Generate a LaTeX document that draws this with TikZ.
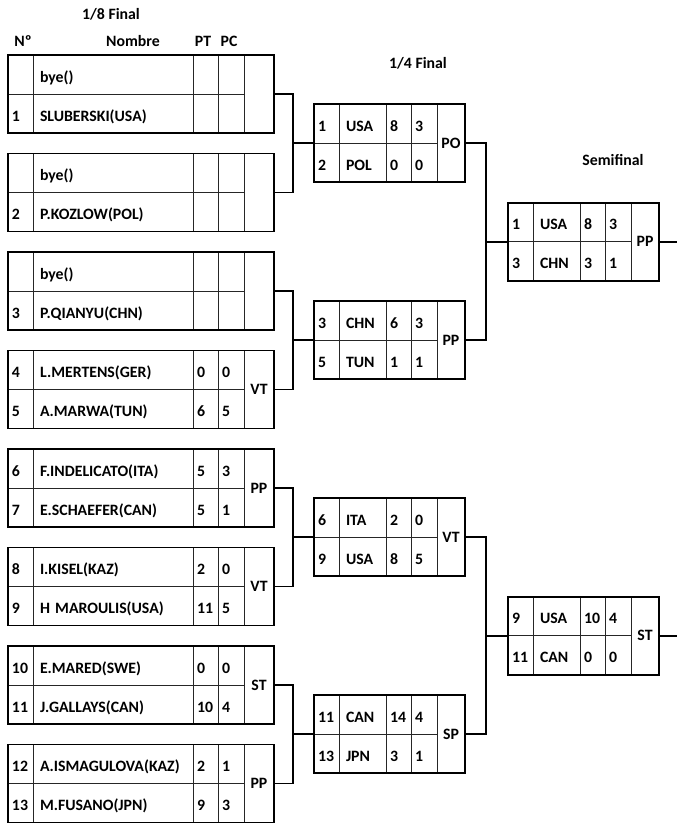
\documentclass[tikz,border=0pt]{standalone}
\usepackage{fontspec}
\setmainfont{Carlito}
\usetikzlibrary{positioning}

% una fila de un partido: id, punto izq., ancho texto nombre, nº, nombre, PT, PC
\newcommand{\fila}[7]{%
  \node[celda=17pt] (#1-n) at #2 {#4};
  \node[nombre=#3, right=0pt of #1-n] (#1-nom) {#5};
  \node[celda=17pt, right=0pt of #1-nom] (#1-pt) {#6};
  \node[celda=18pt, right=0pt of #1-pt] (#1-pc) {#7};
}
% casilla de resultado y marco del partido
\newcommand{\cierre}[3]{%
  \node[resultado, minimum width=#2] (#1) at (#1a-pc.north east) {#3};
  \draw[borde] (#1a-n.north west) rectangle (#1.south east);
}

\tikzset{
  celda/.style={draw=black!85, line width=0.8pt, text width=#1, align=left,
    anchor=west, minimum height=39pt, inner xsep=4pt, inner ysep=0pt,
    outer sep=0pt, text height=17pt, text depth=2pt},
  nombre/.style={celda=#1, inner xsep=7pt},
  resultado/.style={draw=black!85, line width=0.8pt, minimum height=78pt,
    inner sep=0pt, outer sep=0pt, anchor=north west},
  borde/.style={line width=1.8pt},
  linea/.style={line width=1.8pt}
}

\begin{document}
\begin{tikzpicture}[x=1pt, y=-1pt, font=\fontsize{15.8}{18}\selectfont\bfseries]
  \useasboundingbox (0,0) rectangle (677,823);
  % titulos
  \node (h18) at (111,14.5) {1/8 Final};
  \node (hnum) at (23,41) {Nº};
  \node (hnom) at (133,41) {Nombre};
  \node (hpt) at (203,41) {PT};
  \node (hpc) at (229,41) {PC};
  \node (h14) at (418,63) {1/4 Final};
  \node (hsemi) at (613,160) {Semifinal};

  % octavos
  \fila{m1a}{(8,74.5)}{146pt}{}{bye()}{}{}
  \fila{m1b}{(8,113.5)}{146pt}{1}{SLUBERSKI(USA)}{}{}
  \cierre{m1}{30pt}{}
  \fila{m2a}{(8,173)}{146pt}{}{bye()}{}{}
  \fila{m2b}{(8,212)}{146pt}{2}{P.KOZLOW(POL)}{}{}
  \cierre{m2}{30pt}{}
  \fila{m3a}{(8,271.5)}{146pt}{}{bye()}{}{}
  \fila{m3b}{(8,310.5)}{146pt}{3}{P.QIANYU(CHN)}{}{}
  \cierre{m3}{30pt}{}
  \fila{m4a}{(8,370)}{146pt}{4}{L.MERTENS(GER)}{0}{0}
  \fila{m4b}{(8,409)}{146pt}{5}{A.MARWA(TUN)}{6}{5}
  \cierre{m4}{30pt}{VT}
  \fila{m5a}{(8,468.5)}{146pt}{6}{F.INDELICATO(ITA)}{5}{3}
  \fila{m5b}{(8,507.5)}{146pt}{7}{E.SCHAEFER(CAN)}{5}{1}
  \cierre{m5}{30pt}{PP}
  \fila{m6a}{(8,567)}{146pt}{8}{I.KISEL(KAZ)}{2}{0}
  \fila{m6b}{(8,606)}{146pt}{9}{H MAROULIS(USA)}{11}{5}
  \cierre{m6}{30pt}{VT}
  \fila{m7a}{(8,665.5)}{146pt}{10}{E.MARED(SWE)}{0}{0}
  \fila{m7b}{(8,704.5)}{146pt}{11}{J.GALLAYS(CAN)}{10}{4}
  \cierre{m7}{30pt}{ST}
  \fila{m8a}{(8,764)}{146pt}{12}{A.ISMAGULOVA(KAZ)}{2}{1}
  \fila{m8b}{(8,803)}{146pt}{13}{M.FUSANO(JPN)}{9}{3}
  \cierre{m8}{30pt}{PP}

  % cuartos
  \fila{q1a}{(314,123.75)}{33pt}{1}{USA}{8}{3}
  \fila{q1b}{(314,162.75)}{33pt}{2}{POL}{0}{0}
  \cierre{q1}{28pt}{PO}
  \fila{q2a}{(314,320.75)}{33pt}{3}{CHN}{6}{3}
  \fila{q2b}{(314,359.75)}{33pt}{5}{TUN}{1}{1}
  \cierre{q2}{28pt}{PP}
  \fila{q3a}{(314,517.75)}{33pt}{6}{ITA}{2}{0}
  \fila{q3b}{(314,556.75)}{33pt}{9}{USA}{8}{5}
  \cierre{q3}{28pt}{VT}
  \fila{q4a}{(314,714.75)}{33pt}{11}{CAN}{14}{4}
  \fila{q4b}{(314,753.75)}{33pt}{13}{JPN}{3}{1}
  \cierre{q4}{28pt}{SP}

  % semifinal
  \fila{s1a}{(508,222.25)}{33pt}{1}{USA}{8}{3}
  \fila{s1b}{(508,261.25)}{33pt}{3}{CHN}{3}{1}
  \cierre{s1}{28pt}{PP}
  \fila{s2a}{(508,616.25)}{33pt}{9}{USA}{10}{4}
  \fila{s2b}{(508,655.25)}{33pt}{11}{CAN}{0}{0}
  \cierre{s2}{28pt}{ST}

  % llaves
  \coordinate (k1) at ([xshift=-21pt]q1a-n.south west);
  \coordinate (k2) at ([xshift=-21pt]q2a-n.south west);
  \coordinate (k3) at ([xshift=-21pt]q3a-n.south west);
  \coordinate (k4) at ([xshift=-21pt]q4a-n.south west);
  \coordinate (k5) at ([xshift=-22pt]s1a-n.south west);
  \coordinate (k6) at ([xshift=-22pt]s2a-n.south west);
  \coordinate (fin) at (677,0);
  \draw[linea] (m1.east) -| (k1) |- (m2.east);
  \draw[linea] (k1) -- (q1a-n.south west);
  \draw[linea] (m3.east) -| (k2) |- (m4.east);
  \draw[linea] (k2) -- (q2a-n.south west);
  \draw[linea] (m5.east) -| (k3) |- (m6.east);
  \draw[linea] (k3) -- (q3a-n.south west);
  \draw[linea] (m7.east) -| (k4) |- (m8.east);
  \draw[linea] (k4) -- (q4a-n.south west);
  \draw[linea] (q1.east) -| (k5) |- (q2.east);
  \draw[linea] (k5) -- (s1a-n.south west);
  \draw[linea] (q3.east) -| (k6) |- (q4.east);
  \draw[linea] (k6) -- (s2a-n.south west);
  \draw[linea] (s1.east) -- (s1.east -| fin);
  \draw[linea] (s2.east) -- (s2.east -| fin);
\end{tikzpicture}
\end{document}
